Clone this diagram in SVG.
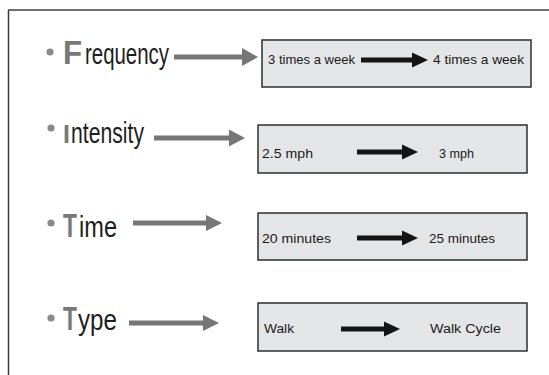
<svg xmlns="http://www.w3.org/2000/svg" width="549" height="375" viewBox="0 0 549 375">
  <defs>
    <style>
      .bg { fill: #ffffff; }
      .frame-top { stroke: #6f6f6f; stroke-width: 2; fill: none; }
      .frame-left { stroke: #3a3a3a; stroke-width: 1.5; fill: none; }
      .dot { fill: #8a8a8a; }
      .cap { font-family: "Liberation Sans", Arial, sans-serif; font-weight: bold; fill: #787878; }
      .word { font-family: "Liberation Sans", Arial, sans-serif; font-size: 29px; fill: #1e1e1e; }
      .box { fill: #e4e5e6; stroke: #2e2e2e; stroke-width: 1.5; }
      .val { font-family: "Liberation Sans", Arial, sans-serif; font-size: 13.5px; fill: #1a1a1a; }
      .garrow { fill: #767676; }
      .karrow { fill: #151515; }
    </style>
  </defs>

  <rect class="bg" x="0" y="0" width="549" height="375"/>

  <!-- slide frame: top and left edges -->
  <line class="frame-top" x1="8" y1="10" x2="549" y2="10"/>
  <line class="frame-left" x1="8.5" y1="10" x2="8.5" y2="375"/>

  <!-- Frequency -->
  <g id="frequency">
    <circle class="dot" cx="50" cy="52" r="3.6"/>
    <text class="cap" transform="translate(63,64) scale(0.92,1)" font-size="34">F</text>
    <text class="word" x="85" y="64" textLength="84" lengthAdjust="spacingAndGlyphs">requency</text>
  </g>
  <g id="frequency-change">
    <rect class="box" x="262" y="40" width="269" height="47"/>
    <text class="val" x="268" y="64" textLength="87" lengthAdjust="spacingAndGlyphs">3 times a week</text>
    <text class="val" x="433" y="64" textLength="91" lengthAdjust="spacingAndGlyphs">4 times a week</text>
  </g>

  <!-- Intensity -->
  <g id="intensity">
    <circle class="dot" cx="51" cy="128" r="3.6"/>
    <text class="cap" transform="translate(63,143)" font-size="25">I</text>
    <text class="word" x="71" y="143" textLength="73" lengthAdjust="spacingAndGlyphs">ntensity</text>
  </g>
  <g id="intensity-change">
    <rect class="box" x="258" y="125" width="269" height="48"/>
    <text class="val" x="262" y="158" textLength="51" lengthAdjust="spacingAndGlyphs">2.5 mph</text>
    <text class="val" x="439" y="158" textLength="35" lengthAdjust="spacingAndGlyphs">3 mph</text>
  </g>

  <!-- Time -->
  <g id="time">
    <circle class="dot" cx="51" cy="223" r="3.6"/>
    <text class="cap" transform="translate(63,237) scale(0.67,1)" font-size="34">T</text>
    <text class="word" x="79" y="237" textLength="38" lengthAdjust="spacingAndGlyphs">ime</text>
  </g>
  <g id="time-change">
    <rect class="box" x="258" y="213" width="269" height="47"/>
    <text class="val" x="262" y="243" textLength="69" lengthAdjust="spacingAndGlyphs">20 minutes</text>
    <text class="val" x="429" y="243" textLength="66" lengthAdjust="spacingAndGlyphs">25 minutes</text>
  </g>

  <!-- Type -->
  <g id="type">
    <circle class="dot" cx="51" cy="318" r="3.6"/>
    <text class="cap" transform="translate(63,330) scale(0.67,1)" font-size="34">T</text>
    <text class="word" x="78" y="330" textLength="39" lengthAdjust="spacingAndGlyphs">ype</text>
  </g>
  <g id="type-change">
    <rect class="box" x="258" y="303" width="269" height="48"/>
    <text class="val" x="264" y="333" textLength="30" lengthAdjust="spacingAndGlyphs">Walk</text>
    <text class="val" x="430" y="333" textLength="71" lengthAdjust="spacingAndGlyphs">Walk  Cycle</text>
  </g>

  <!-- connectors: grey arrows from each factor, black arrows inside each box -->
  <g id="connectors">
    <polygon class="garrow" points="174,54.5 242,54.5 242,48 258,57 242,66 242,59.5 174,59.5"/>
    <polygon class="garrow" points="154,135.5 229,135.5 229,129.5 245,138 229,146.5 229,140.5 154,140.5"/>
    <polygon class="garrow" points="133,220.5 206,220.5 206,215 222,223 206,231 206,225.5 133,225.5"/>
    <polygon class="garrow" points="129,320.5 203,320.5 203,315 219,323 203,331 203,325.5 129,325.5"/>

    <polygon class="karrow" points="361,57.5 412,57.5 412,52.5 428,60 412,67.5 412,62.5 361,62.5"/>
    <polygon class="karrow" points="357,149.5 402,149.5 402,144.5 418,152 402,159.5 402,154.5 357,154.5"/>
    <polygon class="karrow" points="357,235.5 402,235.5 402,230.5 418,238 402,245.5 402,240.5 357,240.5"/>
    <polygon class="karrow" points="341,326.5 384,326.5 384,321.5 400,329 384,336.5 384,331.5 341,331.5"/>
  </g>
</svg>
